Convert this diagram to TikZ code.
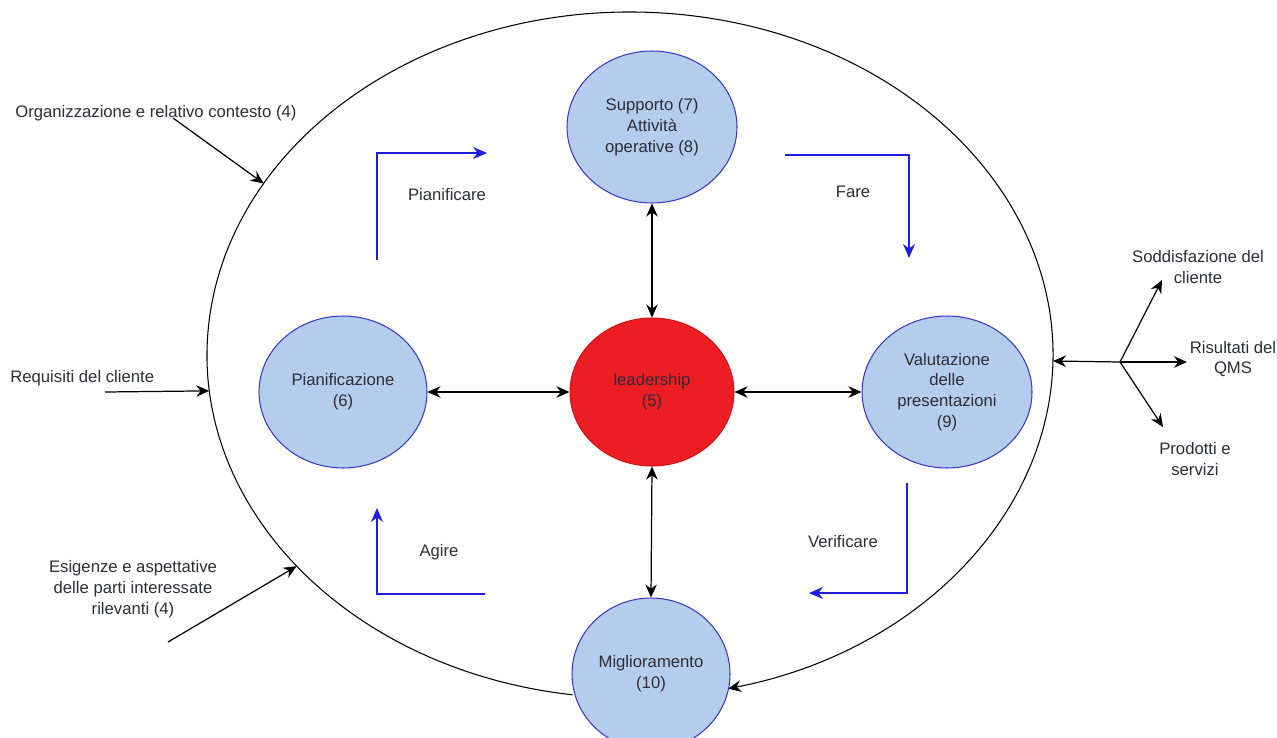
\documentclass[tikz,border=0pt]{standalone}
\usepackage{fontspec}
\setmainfont{Liberation Sans}
\usetikzlibrary{shapes.geometric,arrows.meta}
\definecolor{cfill}{RGB}{181,205,236}
\definecolor{cborder}{RGB}{58,58,196}
\definecolor{redfill}{RGB}{236,30,36}
\definecolor{redborder}{RGB}{210,20,26}
\definecolor{bluearr}{RGB}{30,30,225}
\definecolor{txt}{RGB}{45,45,55}
\tikzset{
  circ/.style={ellipse, draw=cborder, fill=cfill, line width=0.6pt, inner sep=0pt, align=center, text=txt, font=\fontsize{9.5}{11.8}\selectfont},
  redcirc/.style={circ, draw=redborder, fill=redfill},
  lbl/.style={align=center, text=txt, font=\fontsize{9.5}{11.8}\selectfont, inner sep=0pt},
  blk/.style={line width=0.7pt, black},
  bkarr/.style={blk, -{Stealth[length=2.6mm,width=2.3mm]}},
  bkdbl/.style={blk, {Stealth[length=2.6mm,width=2.3mm]}-{Stealth[length=2.6mm,width=2.3mm]}},
  bluepath/.style={line width=0.9pt, draw=bluearr, -{Stealth[length=2.8mm,width=2.4mm]}}
}
\begin{document}
\begin{tikzpicture}[x=0.02cm,y=-0.02cm]
\useasboundingbox (0,0) rectangle (1277,737);
% outer loop
\draw[bkarr, line width=0.6pt] (630,355) ++(97.8:423 and 343) arc[start angle=97.8, end angle=436.6, x radius=423, y radius=343];
\path (630,355) ++(210:423 and 343) coordinate (eTL);
\path (630,355) ++(174:423 and 343) coordinate (eL);
\path (630,355) ++(142:423 and 343) coordinate (eBL);
\path (630,355) ++(361:423 and 343) coordinate (eR);
% circles
\node[circ, minimum width=3.4cm, minimum height=3.04cm] (supp) at (652,127) {Supporto (7)\\Attività\\operative (8)};
\node[circ, minimum width=3.36cm, minimum height=3.04cm] (pian) at (343,392) {Pianificazione\\(6)};
\node[redcirc, minimum width=3.28cm, minimum height=2.96cm] (lead) at (652,392) {leadership\\(5)};
\node[circ, minimum width=3.4cm, minimum height=3.04cm] (valu) at (947,392) {Valutazione\\delle\\presentazioni\\(9)};
\node[circ, minimum width=3.16cm, minimum height=3.04cm] (migl) at (651,674) {Miglioramento\\(10)};
% central arrows
\draw[bkdbl] (supp.south) -- (lead.north);
\draw[bkdbl] (lead.south) -- (migl.north);
\draw[bkdbl] (pian.east) -- (lead.west);
\draw[bkdbl] (lead.east) -- (valu.west);
% blue PDCA arrows
\coordinate (p1) at (377,260); \coordinate (p2) at (377,153); \coordinate (p3) at (487,153);
\draw[bluepath] (p1) -- (p2) -- (p3);
\node[lbl] (plbl) at (447,195) {Pianificare};
\coordinate (f1) at (785,155); \coordinate (f2) at (909,155); \coordinate (f3) at (909,258);
\draw[bluepath] (f1) -- (f2) -- (f3);
\node[lbl] (flbl) at (853,192) {Fare};
\coordinate (v1) at (907,483); \coordinate (v2) at (907,593); \coordinate (v3) at (809,593);
\draw[bluepath] (v1) -- (v2) -- (v3);
\node[lbl] (vlbl) at (843,542) {Verificare};
\coordinate (a1) at (485,594); \coordinate (a2) at (377,594); \coordinate (a3) at (377,508);
\draw[bluepath] (a1) -- (a2) -- (a3);
\node[lbl] (albl) at (439,552) {Agire};
% left inputs
\node[lbl, anchor=west] (org) at (15,113) {Organizzazione e relativo contesto (4)};
\coordinate (orgS) at (173,118);
\draw[bkarr] (orgS) -- (eTL);
\node[lbl, anchor=west] (req) at (10,378) {Requisiti del cliente};
\coordinate (reqS) at (105,392);
\draw[bkarr] (reqS) -- (eL);
\node[lbl] (esi) at (133,589) {Esigenze e aspettative\\delle parti interessate\\rilevanti (4)};
\coordinate (esiS) at (168,642);
\draw[bkarr] (esiS) -- (eBL);
% right outputs
\coordinate (br) at (1120,362);
\draw[bkarr] (br) -- (eR);
\coordinate (o1) at (1162,280); \coordinate (o2) at (1187,362); \coordinate (o3) at (1163,427);
\draw[bkarr] (br) -- (o1);
\draw[bkarr] (br) -- (o2);
\draw[bkarr] (br) -- (o3);
\node[lbl] (sod) at (1198,267) {Soddisfazione del\\cliente};
\node[lbl] (ris) at (1233,359) {Risultati del\\QMS};
\node[lbl] (pro) at (1195,459) {Prodotti e\\servizi};
\end{tikzpicture}
\end{document}
